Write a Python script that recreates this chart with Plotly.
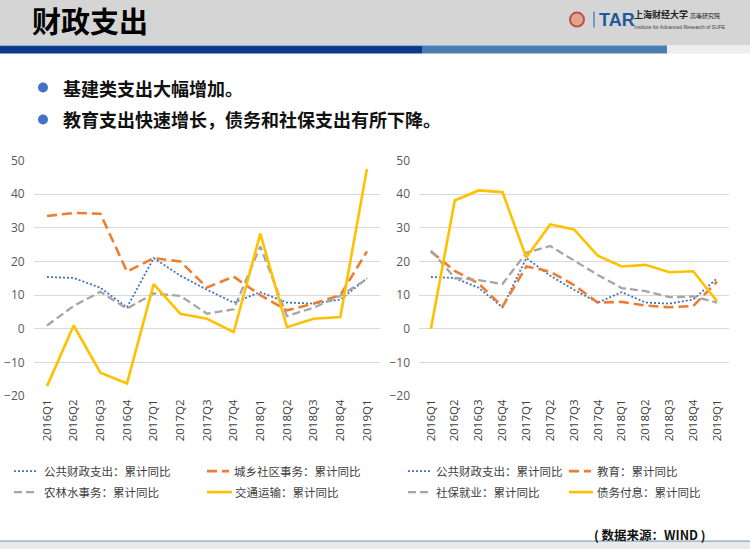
import plotly.graph_objects as go

quarters = ["2016Q1", "2016Q2", "2016Q3", "2016Q4", "2017Q1", "2017Q2", "2017Q3",
            "2017Q4", "2018Q1", "2018Q2", "2018Q3", "2018Q4", "2019Q1"]

# Left chart
public_exp = [15.4, 15.1, 12.2, 6.4, 21.0, 15.8, 11.6, 7.8, 10.9, 7.8, 7.5, 8.7, 15.0]
urban_rural = [33.5, 34.4, 34.2, 17.0, 21.0, 20.0, 12.3, 15.5, 10.0, 5.5, 7.5, 10.0, 23.0]
agri_water = [1.0, 6.8, 11.0, 6.0, 10.5, 9.8, 4.5, 5.8, 24.5, 3.8, 6.3, 9.8, 14.8]
transport = [-17.0, 1.0, -13.0, -16.2, 13.3, 4.5, 3.0, -1.0, 28.3, 0.5, 3.0, 3.5, 47.5]

# Right chart
education = [23.0, 17.2, 13.5, 6.6, 18.5, 17.0, 13.0, 7.8, 8.0, 6.9, 6.4, 6.8, 14.0]
social_sec = [23.3, 15.1, 14.5, 13.3, 22.6, 24.6, 20.3, 16.0, 12.1, 11.2, 9.4, 9.6, 7.8]
debt_int = [0.0, 38.1, 41.1, 40.6, 21.2, 31.0, 29.5, 21.7, 18.5, 19.0, 16.8, 17.1, 8.2]

left_names = ["公共财政支出：累计同比", "城乡社区事务：累计同比", "农林水事务：累计同比", "交通运输：累计同比"]
right_names = ["公共财政支出：累计同比", "教育：累计同比", "社保就业：累计同比", "债务付息：累计同比"]

yticks = [-20, -10, 0, 10, 20, 30, 40, 50]

BLUE = "#4472C4"
ORANGE = "#ED7D31"
GRAY = "#A5A5A5"
GOLD = "#FFC000"

styles = [
    dict(color=BLUE, width=1.8, dash="2px,2px"),
    dict(color=ORANGE, width=2.6, dash="10px,5px"),
    dict(color=GRAY, width=2.3, dash="8px,4px"),
    dict(color=GOLD, width=2.6, dash="solid"),
]

W, H = 750, 549
# observed page offset/scale of the captured picture (vertical only)
Y_OFF, Y_SCALE = 8.4, 0.97

def px(x):
    return x / W
def py(y):
    fy = (y - Y_OFF) / Y_SCALE
    return 1 - fy / H

fig = go.Figure()

left_series = [public_exp, urban_rural, agri_water, transport]
right_series = [public_exp, education, social_sec, debt_int]

for s, name, st in zip(left_series, left_names, styles):
    fig.add_trace(go.Scatter(x=quarters, y=s, name=name, mode="lines", line=st,
                             xaxis="x", yaxis="y", showlegend=False))
for s, name, st in zip(right_series, right_names, styles):
    fig.add_trace(go.Scatter(x=quarters, y=s, name=name, mode="lines", line=st,
                             xaxis="x2", yaxis="y2", showlegend=False))

axis_font = dict(family="Open Sans, Noto Sans, sans-serif", size=12, color="#595959")
xfont = dict(family="Open Sans, Noto Sans, sans-serif", size=11.5, color="#404040")

common_x = dict(type="category", categoryorder="array", categoryarray=quarters,
                range=[-0.5, 12.5], tickangle=-90, tickfont=xfont, showgrid=False,
                showline=False, ticks="", fixedrange=True)
common_y = dict(range=[-20, 50], tickvals=yticks, tickfont=axis_font, showgrid=True,
                gridcolor="#D9D9D9", gridwidth=1, zeroline=False, showline=False,
                ticks="", ticklabelstandoff=8)

fig.update_layout(
    width=W, height=H, autosize=False,
    margin=dict(l=0, r=0, t=0, b=0, pad=0),
    paper_bgcolor="white", plot_bgcolor="rgba(0,0,0,0)",
    xaxis=dict(domain=[px(33.7), px(380.3)], anchor="y", **common_x),
    yaxis=dict(domain=[py(396), py(160)], anchor="x", **common_y),
    xaxis2=dict(domain=[px(419), px(729)], anchor="y2", **common_x),
    yaxis2=dict(domain=[py(396), py(160)], anchor="x2", **common_y),
)

shapes = []
annots = []

# header band
shapes.append(dict(type="rect", xref="paper", yref="paper", x0=0, x1=1, y0=py(45), y1=1.05,
                   fillcolor="#D5D5D5", line=dict(width=0), layer="below"))
shapes.append(dict(type="rect", xref="paper", yref="paper", x0=0, x1=px(422), y0=py(53), y1=py(45),
                   fillcolor="#0B3A8C", line=dict(width=0), layer="below"))
shapes.append(dict(type="rect", xref="paper", yref="paper", x0=px(422), x1=px(667), y0=py(53), y1=py(45),
                   fillcolor="#4A7EAE", line=dict(width=0), layer="below"))
shapes.append(dict(type="rect", xref="paper", yref="paper", x0=px(667), x1=1, y0=py(53), y1=py(45),
                   fillcolor="#EEEEEE", line=dict(width=0), layer="below"))
shapes.append(dict(type="line", xref="paper", yref="paper", x0=0, x1=px(667), y0=py(45), y1=py(45),
                   line=dict(color="#8FB0D6", width=1)))

annots.append(dict(text="<b>财政支出</b>", x=px(30), y=py(19), xref="paper", yref="paper",
                   xanchor="left", yanchor="middle", showarrow=False,
                   font=dict(family="Noto Sans CJK SC", size=29, color="#000000")))

# logo
shapes.append(dict(type="circle", xref="paper", yref="paper", x0=px(570), x1=px(584), y0=py(26), y1=py(12),
                   fillcolor="#E2A48A", line=dict(color="#C0504D", width=2)))
shapes.append(dict(type="rect", xref="paper", yref="paper", x0=px(593), x1=px(595), y0=py(27), y1=py(11),
                   fillcolor="#6E9BC8", line=dict(width=0)))
annots.append(dict(text="<b>TAR</b>", x=px(597), y=py(19), xref="paper", yref="paper",
                   xanchor="left", yanchor="middle", showarrow=False,
                   font=dict(family="Liberation Sans", size=18, color="#1F5A9C")))
annots.append(dict(text="<b>上海财经大学</b> <span style='font-size:6px'>高等研究院</span>",
                   x=px(632), y=py(14), xref="paper", yref="paper",
                   xanchor="left", yanchor="middle", showarrow=False,
                   font=dict(family="Noto Sans CJK SC", size=9, color="#222222")))
annots.append(dict(text="Institute for Advanced Research of SUFE", x=px(632), y=py(26),
                   xref="paper", yref="paper", xanchor="left", yanchor="middle", showarrow=False,
                   font=dict(family="Liberation Sans", size=5, color="#444444")))

# bullets
for yy, txt in [(87, "基建类支出大幅增加。"), (119, "教育支出快速增长，债务和社保支出有所下降。")]:
    shapes.append(dict(type="circle", xref="paper", yref="paper",
                       x0=px(38), x1=px(48), y0=py(yy + 5), y1=py(yy - 5),
                       fillcolor="#4472C4", line=dict(width=0)))
    annots.append(dict(text="<b>" + txt + "</b>", x=px(61), y=py(yy), xref="paper", yref="paper",
                       xanchor="left", yanchor="middle", showarrow=False,
                       font=dict(family="Noto Sans CJK SC", size=18, color="#111111")))

# legends (drawn as annotations + sample lines)
leg_font = dict(family="Noto Sans CJK SC", size=11.5, color="#404040")
def add_legend(items):
    for (x_line0, x_line1, x_text, yy, name, st) in items:
        shapes.append(dict(type="line", xref="paper", yref="paper",
                           x0=px(x_line0), x1=px(x_line1), y0=py(yy), y1=py(yy),
                           line=dict(color=st["color"], width=st["width"], dash=st["dash"])))
        annots.append(dict(text=name, x=px(x_text), y=py(yy), xref="paper", yref="paper",
                           xanchor="left", yanchor="middle", showarrow=False, font=leg_font))

add_legend([
    (14, 38, 42, 471, left_names[0], styles[0]),
    (207, 229, 232, 471, left_names[1], styles[1]),
    (14, 38, 42, 492, left_names[2], styles[2]),
    (207, 232, 233, 492, left_names[3], styles[3]),
])
add_legend([
    (408, 431, 434, 471, right_names[0], styles[0]),
    (569, 591, 595, 471, right_names[1], styles[1]),
    (408, 431, 434, 492, right_names[2], styles[2]),
    (569, 593, 595, 492, right_names[3], styles[3]),
])

# bottom band & source
shapes.append(dict(type="rect", xref="paper", yref="paper", x0=0, x1=1, y0=-0.05, y1=py(541),
                   fillcolor="#EBEBEB", line=dict(width=0), layer="below"))
shapes.append(dict(type="line", xref="paper", yref="paper", x0=0, x1=1, y0=py(541), y1=py(541),
                   line=dict(color="#6E93B5", width=1)))
annots.append(dict(text="<b>( 数据来源：WIND )</b>", x=px(592), y=py(534), xref="paper", yref="paper",
                   xanchor="left", yanchor="middle", showarrow=False,
                   font=dict(family="Noto Sans CJK SC", size=12.5, color="#111111")))

fig.update_layout(shapes=shapes, annotations=annots)

page_css = (
    "var s=document.createElement('style');"
    "s.textContent='html,body{margin:0!important;padding:0!important;overflow:hidden!important;}"
    "html{background:linear-gradient(to bottom,#D5D5D5 0,#D5D5D5 50%,#EBEBEB 50%,#EBEBEB 100%);}"
    "body{background:transparent;} body>div{margin:0;padding:0;line-height:0;font-size:0;}';"
    "document.head.appendChild(s);"
)

fig.write_html(
    "out.html",
    config={"displayModeBar": False, "responsive": False},
    post_script=page_css,
)
